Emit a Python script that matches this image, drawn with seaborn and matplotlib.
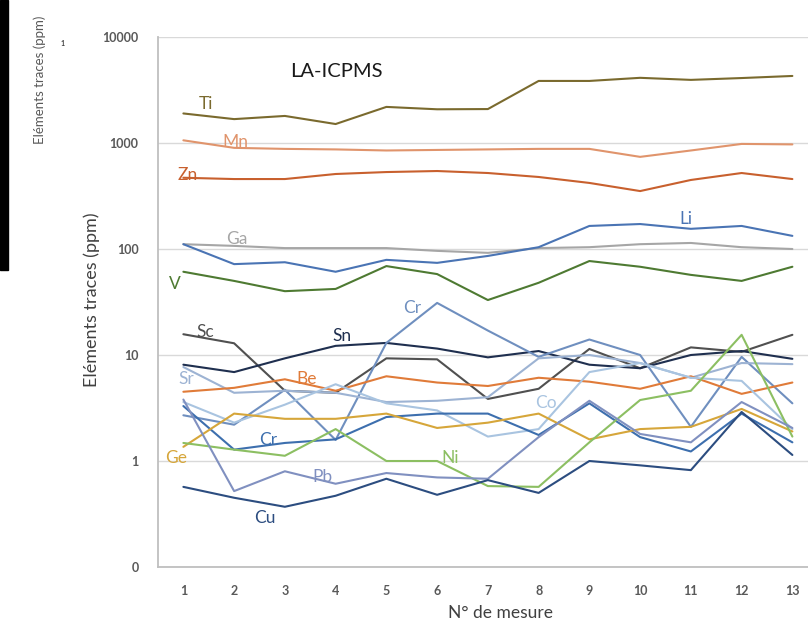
import numpy as np
import pandas as pd
import matplotlib
matplotlib.use("Agg")
import matplotlib.pyplot as plt
from matplotlib.patches import Rectangle
from matplotlib.ticker import NullLocator
import seaborn as sns

# Measurement numbers
mesures = list(range(1, 14))

# Trace element contents (ppm) for each measurement
ti = [1900, 1680, 1800, 1510, 2190, 2080, 2090, 3850, 3850, 4120, 3940, 4100, 4290]
mn = [1060, 900, 880, 870, 850, 860, 870, 880, 880, 740, 850, 980, 970]
zn = [470, 457, 457, 510, 532, 544, 521, 478, 420, 352, 448, 521, 457]
ga = [111, 107, 102, 102, 102, 96, 92, 102, 104, 111, 114, 104, 100]
li = [111, 72, 75, 61, 79, 74, 86, 104, 165, 172, 155, 165, 133]
v = [61, 50, 40, 42, 69, 58, 33, 48, 77, 68, 57, 50, 68]
sc = [15.7, 12.9, 4.6, 4.4, 9.3, 9.1, 3.85, 4.8, 11.4, 7.5, 11.8, 10.7, 15.5]
sn = [8.1, 6.9, 9.3, 12.2, 13.0, 11.5, 9.5, 10.9, 8.1, 7.5, 10.0, 10.9, 9.2]
cr_a = [2.7, 2.2, 4.7, 1.58, 13.0, 31.0, 17.0, 9.6, 14.0, 10.0, 2.1, 9.6, 3.5]
sr = [7.7, 4.4, 4.6, 4.4, 3.6, 3.7, 4.0, 9.3, 10.0, 8.4, 6.1, 8.4, 8.2]
be = [4.5, 4.9, 5.9, 4.6, 6.3, 5.5, 5.1, 6.1, 5.6, 4.8, 6.3, 4.3, 5.5]
co = [3.6, 2.3, 3.4, 5.3, 3.5, 3.0, 1.7, 2.0, 6.9, 8.4, 6.1, 5.7, 2.0]
cr_b = [3.3, 1.28, 1.48, 1.6, 2.6, 2.8, 2.8, 1.76, 3.5, 1.68, 1.23, 2.8, 1.5]
ge = [1.36, 2.8, 2.5, 2.5, 2.8, 2.05, 2.3, 2.8, 1.6, 2.0, 2.1, 3.1, 1.9]
ni = [1.48, 1.28, 1.12, 2.0, 1.0, 1.0, 0.58, 0.57, 1.5, 3.76, 4.6, 15.5, 1.7]
pb = [3.8, 0.52, 0.8, 0.61, 0.77, 0.70, 0.68, 1.68, 3.7, 1.8, 1.5, 3.6, 2.05]
cu = [0.57, 0.45, 0.37, 0.47, 0.68, 0.48, 0.66, 0.50, 1.0, 0.91, 0.82, 2.9, 1.14]

series = {
    "Ti": ti, "Mn": mn, "Zn": zn, "Ga": ga, "Li": li, "V": v,
    "Sc": sc, "Sn": sn, "Cr_a": cr_a, "Sr": sr, "Be": be, "Co": co,
    "Cr_b": cr_b, "Ge": ge, "Ni": ni, "Pb": pb, "Cu": cu,
}

colors = {
    "Ti": "#7A6A2E", "Mn": "#E0946C", "Zn": "#C8602E", "Ga": "#A6A6A6",
    "Li": "#4A74B4", "V": "#4E7A32", "Sc": "#505050", "Sn": "#1F2F4F",
    "Cr_a": "#6F8FBF", "Sr": "#9DB3D3", "Be": "#E07B39", "Co": "#A9C4E0",
    "Cr_b": "#3D6FAE", "Ge": "#D6A63A", "Ni": "#8CBF62", "Pb": "#8090C0",
    "Cu": "#2C4D80",
}

# Element name annotations: (series, text, x, y)
labels = [
    ("Ti", "Ti", 1.44, 2330), ("Mn", "Mn", 2.02, 1020), ("Zn", "Zn", 1.09, 500),
    ("Ga", "Ga", 2.05, 124), ("Li", "Li", 10.9, 190), ("V", "V", 0.84, 47),
    ("Sc", "Sc", 1.43, 16.5), ("Sn", "Sn", 4.12, 15.0), ("Cr_a", "Cr", 5.5, 28),
    ("Sr", "Sr", 1.06, 6.0), ("Be", "Be", 3.43, 5.9), ("Co", "Co", 8.15, 3.5),
    ("Cr_b", "Cr", 2.67, 1.58), ("Ge", "Ge", 0.86, 1.07), ("Ni", "Ni", 6.26, 1.07),
    ("Pb", "Pb", 3.75, 0.70), ("Cu", "Cu", 2.6, 0.29),
]

df = pd.concat(
    [pd.DataFrame({"mesure": mesures, "ppm": vals, "element": name})
     for name, vals in series.items()],
    ignore_index=True,
)

sns.set_theme(style="white")
plt.rcParams["font.family"] = ["Lato", "DejaVu Sans"]

W, H = 808, 625
fig = plt.figure(figsize=(W / 100, H / 100), dpi=100)
fig.patch.set_facecolor("white")

left, right, top, bottom = 158, 817.75, 37, 567
ax = fig.add_axes([left / W, 1 - bottom / H, (right - left) / W, (bottom - top) / H])

sns.lineplot(data=df, x="mesure", y="ppm", hue="element", palette=colors,
             legend=False, linewidth=1.5, estimator=None, sort=False, ax=ax)
ax.set_xlabel("")
ax.set_ylabel("")

ax.set_yscale("log")
ax.set_ylim(0.1, 10000)
ax.set_xlim(0.5, 13.5)

ax.set_yticks([0.1, 1, 10, 100, 1000, 10000])
ax.set_yticklabels(["0", "1", "10", "100", "1000", "10000"])
ax.yaxis.set_minor_locator(NullLocator())
ax.set_xticks(mesures)
ax.set_xticklabels([str(m) for m in mesures])
ax.set_xticks(np.arange(1.5, 13.5, 1), minor=True)

ax.tick_params(axis="y", which="major", length=4, width=1, color="#BFBFBF",
               direction="out", pad=10, labelsize=9, labelcolor="#595959")
ax.tick_params(axis="x", which="major", length=0, pad=13, labelsize=9,
               labelcolor="#595959")
ax.tick_params(axis="x", which="minor", length=4, width=1, color="#BFBFBF",
               direction="in")
for t in ax.get_xticklabels() + ax.get_yticklabels():
    t.set_fontweight("bold")

ax.grid(False)
ax.yaxis.grid(True, color="#D9D9D9", linewidth=1)
for side in ("top", "right"):
    ax.spines[side].set_visible(False)
for side in ("left", "bottom"):
    ax.spines[side].set_color("#BFBFBF")
    ax.spines[side].set_linewidth(1.3)

for key, txt, x, y in labels:
    ax.text(x, y, txt, color=colors[key], fontsize=12.5, ha="center",
            va="center", clip_on=False)

ax.text(0.27, 0.935, "LA-ICPMS", transform=ax.transAxes, fontsize=14.5,
        color="#1A1A1A", ha="center", va="center")

fig.text(500 / W, 1 - 613 / H, "N° de mesure", fontsize=12.5,
         color="#404040", ha="center", va="center")
fig.text(92 / W, 1 - 300 / H, "Eléments traces (ppm)", fontsize=13,
         color="#404040", rotation=90, ha="center", va="center")

# Narrow dark band with a small copy of the axis title on the left edge
fig.patches.append(Rectangle((0, 1 - 270 / H), 8 / W, 270 / H,
                             transform=fig.transFigure, color="black"))
fig.text(40 / W, 1 - 80 / H, "Eléments traces (ppm)", fontsize=9.5,
         color="#595959", rotation=90, ha="center", va="center")
fig.text(63 / W, 1 - 43 / H, "1", fontsize=5, color="#404040",
         ha="center", va="center", fontweight="bold")

fig.savefig("out.png", dpi=100)
